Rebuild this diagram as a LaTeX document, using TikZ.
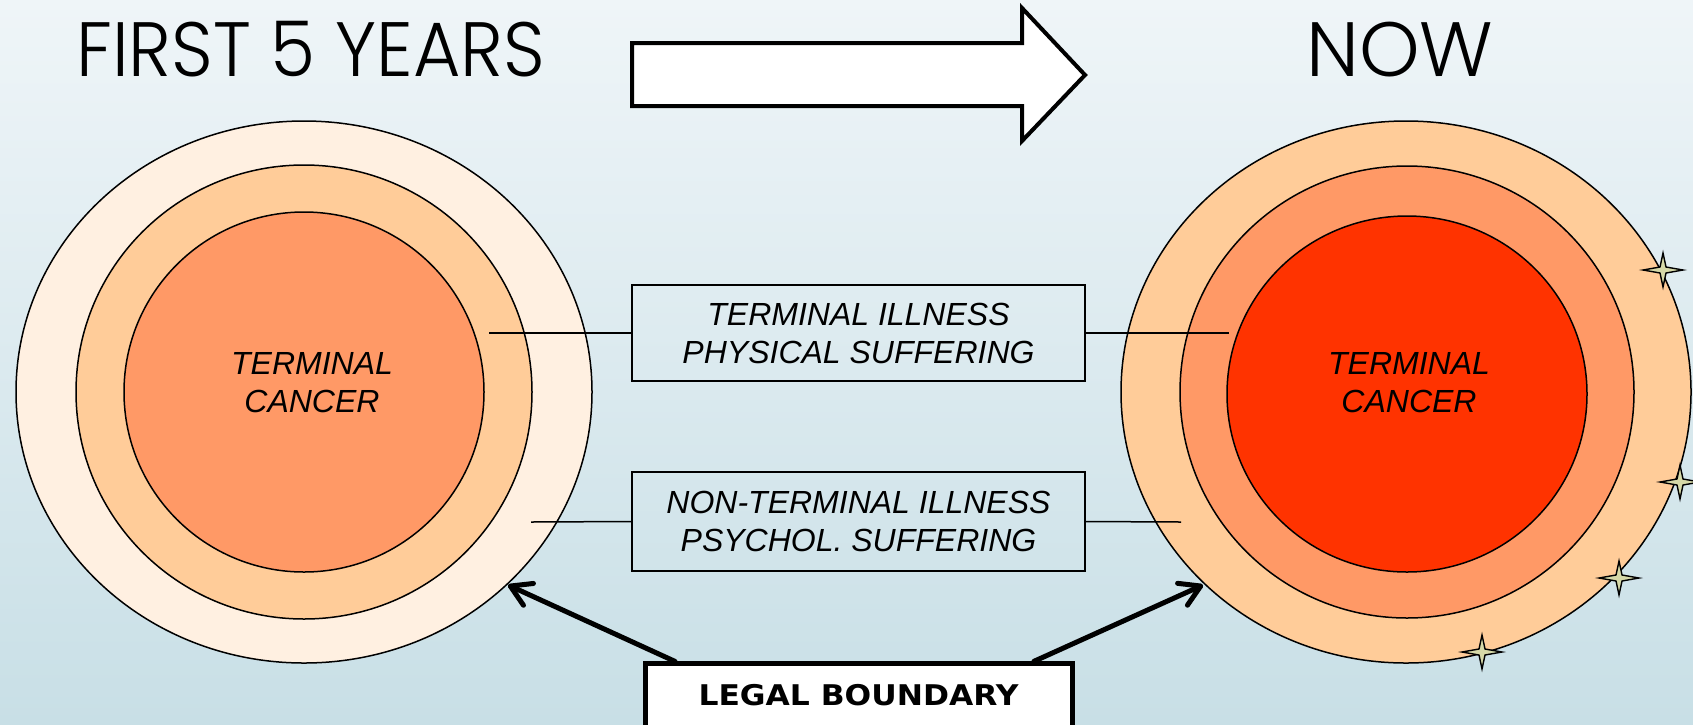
\documentclass[tikz,border=0pt]{standalone}
\usepackage{fontspec}
\setmainfont{Liberation Sans}
\newfontfamily\titlefont{Poppins Light}
\newfontfamily\legalfont{DejaVu Sans}
\usetikzlibrary{arrows.meta,calc}
\definecolor{bgtop}{HTML}{EFF5F8}
\definecolor{bgbot}{HTML}{C8DFE6}
\definecolor{palepeach}{HTML}{FFF0E1}
\definecolor{peach}{HTML}{FFCC99}
\definecolor{salmon}{HTML}{FF9966}
\definecolor{hotred}{HTML}{FF3300}
\definecolor{starfill}{HTML}{D6D9A8}
\tikzset{
  ring/.style={draw=black, line width=1.5pt},
  lbl/.style={font=\fontsize{32pt}{38pt}\selectfont\itshape, align=center, text=black},
  lblbox/.style={lbl, draw=black, line width=1.8pt, minimum width=453pt, inner sep=0pt},
  conn/.style={draw=black, line width=1.5pt},
  legalarrow/.style={draw=black, line width=5pt, line cap=round, -{Straight Barb[length=20pt, width=24pt, round]}},
  titletext/.style={font=\titlefont\fontsize{77pt}{80pt}\selectfont, inner sep=0pt, anchor=base west},
  starstyle/.style={draw=black, line width=1.4pt, fill=starfill, line join=miter},
  star4/.pic={\path[starstyle] (20,0) -- (3,3) -- (0,17) -- (-3,3) -- (-20,0) -- (-3,-3) -- (0,-17) -- (3,-3) -- cycle;}
}
\begin{document}
\begin{tikzpicture}[x=1pt, y=-1pt]
\useasboundingbox (0,0) rectangle (1693,724);
\shade[top color=bgtop, bottom color=bgbot] (0,0) rectangle (1693,724);

% titles
\node[titletext] (first) at (76,76) {\scalebox{0.945}[1]{FIRST 5 YEARS}};
\node[titletext] (now) at (1306,76) {NOW};

% big arrow
\draw[line width=4pt, fill=white, line join=miter] (632,43) -- (1022,43) -- (1022,8) -- (1085,75) -- (1022,141) -- (1022,106) -- (632,106) -- cycle;

% left rings
\filldraw[ring, fill=palepeach] (304,392) ellipse [x radius=288pt, y radius=271pt];
\filldraw[ring, fill=peach] (304,392) ellipse [x radius=228pt, y radius=227pt];
\filldraw[ring, fill=salmon] (304,392) ellipse [x radius=180pt, y radius=180pt];
\node[lbl] (lcancer) at (312,383) {TERMINAL\\CANCER};

% right rings
\filldraw[ring, fill=peach] (1406,392) ellipse [x radius=285pt, y radius=271pt];
\filldraw[ring, fill=salmon] (1407,392) ellipse [x radius=227pt, y radius=226pt];
\filldraw[ring, fill=hotred] (1407,394) ellipse [x radius=180pt, y radius=178pt];
\node[lbl] (rcancer) at (1409,383) {TERMINAL\\CANCER};

% stars
\pic at (1663,270) {star4};
\pic at (1680,482) {star4};
\pic at (1619,578) {star4};
\pic at (1482,652) {star4};

% label boxes
\node[lblbox, minimum height=96pt] (phys) at (858.5,333) {TERMINAL ILLNESS\\PHYSICAL SUFFERING};
\node[lblbox, minimum height=99pt] (psych) at (858.5,521.5) {NON-TERMINAL ILLNESS\\PSYCHOL. SUFFERING};

\coordinate (pl) at (489,333);
\coordinate (pr) at (1229,333);
\coordinate (sl) at (531,522);
\coordinate (sr) at (1181,522);
\draw[conn] (pl) -- (phys.west);
\draw[conn] (phys.east) -- (pr);
\draw[conn] (sl) -- (psych.west);
\draw[conn] (psych.east) -- (sr);

% legal boundary
\node[draw=black, line width=5pt, fill=white, anchor=base, minimum width=427pt,
      inner ysep=20pt, text depth=50pt, font=\legalfont\bfseries\fontsize{28.5pt}{30pt}\selectfont]
      (legal) at (858.5,705) {\scalebox{1.1}[1]{LEGAL BOUNDARY}};
\coordinate (ltip) at (508,585);
\coordinate (rtip) at (1203,585);
\draw[legalarrow] ($(legal.north west)!0.075!(legal.north east)$) -- (ltip);
\draw[legalarrow] ($(legal.north west)!0.906!(legal.north east)$) -- (rtip);
\end{tikzpicture}
\end{document}
